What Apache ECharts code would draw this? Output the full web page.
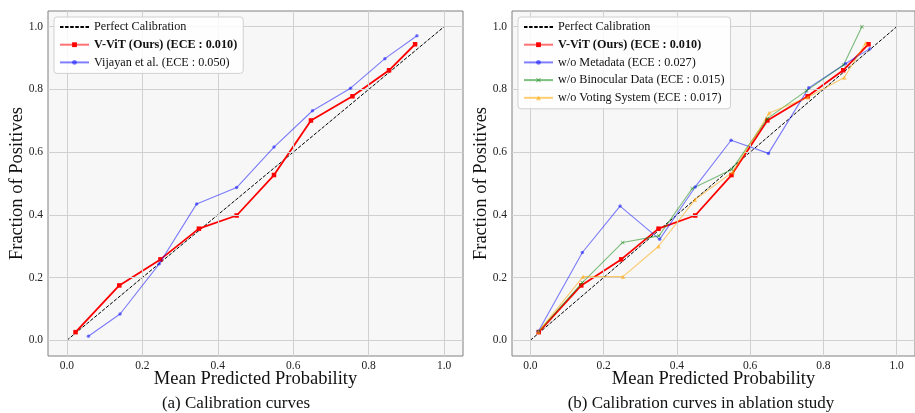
<!DOCTYPE html>
<html><head><meta charset="utf-8">
<script src="https://cdn.jsdelivr.net/npm/echarts@6/dist/echarts.min.js"></script>
<style>html,body{margin:0;padding:0;background:#fff}#c{width:915px;height:413px}</style>
</head><body><div id="c"></div>
<script>
// ---- data ----
const tickValues = [0.0, 0.2, 0.4, 0.6, 0.8, 1.0];
const perfectX = [0, 1];
const perfectY = [0, 1];
const vvitX = [0.023, 0.139, 0.248, 0.350, 0.450, 0.549, 0.647, 0.757, 0.854, 0.923];
const vvitY = [0.026, 0.175, 0.258, 0.356, 0.398, 0.527, 0.701, 0.778, 0.861, 0.944];
const vijX = [0.057, 0.141, 0.245, 0.344, 0.450, 0.549, 0.651, 0.752, 0.843, 0.928];
const vijY = [0.013, 0.084, 0.244, 0.435, 0.487, 0.616, 0.732, 0.804, 0.898, 0.971];
const metaX = [0.022, 0.142, 0.245, 0.353, 0.450, 0.548, 0.650, 0.760, 0.860, 0.927];
const metaY = [0.029, 0.280, 0.428, 0.322, 0.489, 0.638, 0.596, 0.805, 0.882, 0.930];
const binoX = [0.022, 0.142, 0.252, 0.351, 0.442, 0.550, 0.647, 0.754, 0.855, 0.905];
const binoY = [0.028, 0.184, 0.312, 0.333, 0.484, 0.545, 0.707, 0.796, 0.878, 1.000];
const voteX = [0.022, 0.144, 0.253, 0.350, 0.449, 0.553, 0.652, 0.758, 0.857, 0.915];
const voteY = [0.027, 0.203, 0.203, 0.300, 0.448, 0.537, 0.725, 0.775, 0.838, 0.947];

const N_PERFECT = 'Perfect Calibration';
const N_VVIT = 'V-ViT (Ours) (ECE : 0.010)';
const N_VIJ = 'Vijayan et al. (ECE : 0.050)';
const N_META = 'w/o Metadata (ECE : 0.027)';
const N_BINO = 'w/o Binocular Data (ECE : 0.015)';
const N_VOTE = 'w/o Voting System (ECE : 0.017)';
const captionA = '(a) Calibration curves';
const captionB = '(b) Calibration curves in ablation study';
const xTitle = 'Mean Predicted Probability';
const yTitle = 'Fraction of Positives';

const zip = (a, b) => a.map((v, i) => [v, b[i]]);
const FONT = '"Liberation Serif", "Times New Roman", serif';
const xSymbol = 'path://M0,1.4L1.4,0L5,3.6L8.6,0L10,1.4L6.4,5L10,8.6L8.6,10L5,6.4L1.4,10L0,8.6L3.6,5Z';

function mkX(idx) {
  return {
    type: 'value', gridIndex: idx, min: -0.05, max: 1.05,
    name: xTitle, nameLocation: 'middle', nameGap: 14, nameMoveOverlap: false,
    nameTextStyle: { fontFamily: FONT, fontSize: 18.5, color: '#111' },
    axisLine: { show: false },
    axisTick: { show: true, length: 3.5, inside: false, customValues: tickValues, lineStyle: { color: '#777' } },
    axisLabel: { customValues: tickValues, margin: 4, fontFamily: FONT, fontSize: 11.5, color: '#222',
      formatter: v => v.toFixed(1) },
    splitLine: { show: false }
  };
}
function mkY(idx) {
  return {
    type: 'value', gridIndex: idx, min: -0.05, max: 1.05,
    name: yTitle, nameLocation: 'middle', nameGap: 21, nameRotate: 90, nameMoveOverlap: false,
    nameTextStyle: { fontFamily: FONT, fontSize: 18.5, color: '#111' },
    axisLine: { show: false },
    axisTick: { show: true, length: 3.5, customValues: tickValues, lineStyle: { color: '#777' } },
    axisLabel: { customValues: tickValues, margin: 5, fontFamily: FONT, fontSize: 11.5, color: '#222',
      formatter: v => v.toFixed(1) },
    splitLine: { show: false }
  };
}
function gridLines(idx) {
  // grid lines at tick values, drawn through the axis scales
  return {
    type: 'line', xAxisIndex: idx, yAxisIndex: idx, data: [], silent: true, z: 1,
    markLine: {
      silent: true, symbol: 'none', label: { show: false },
      lineStyle: { color: '#d0d0d0', width: 1, type: 'solid' },
      data: tickValues.map(v => ({ xAxis: v })).concat(tickValues.map(v => ({ yAxis: v })))
    }
  };
}
function perfect(idx) {
  return { name: N_PERFECT, type: 'line', xAxisIndex: idx, yAxisIndex: idx, data: zip(perfectX, perfectY),
    symbol: 'none', lineStyle: { color: '#000', width: 1, type: [3.5, 1.6] }, itemStyle: { color: '#000' }, z: 3 };
}
function vvit(idx) {
  return { name: N_VVIT, type: 'line', xAxisIndex: idx, yAxisIndex: idx, data: zip(vvitX, vvitY),
    symbol: 'rect', symbolSize: 4.5, lineStyle: { color: '#ff0000', width: 1.8 }, itemStyle: { color: '#ff0000' }, z: 4 };
}
function thin(name, idx, xs, ys, color, symbol, size) {
  return { name, type: 'line', xAxisIndex: idx, yAxisIndex: idx, data: zip(xs, ys),
    symbol, symbolSize: size, lineStyle: { color, width: 1.1 }, itemStyle: { color }, z: 5 };
}
const BLUE = 'rgba(0,0,255,0.5)', GREEN = 'rgba(0,128,0,0.5)', ORANGE = 'rgba(255,165,0,0.55)';

function legendCfg(left, names) {
  return {
    left, top: 17, orient: 'vertical', padding: [3, 6, 4, 5], itemGap: 3.7, z: 20,
    itemWidth: 29, itemHeight: 6,
    backgroundColor: 'rgba(255,255,255,0.85)', borderColor: '#d0d0d0', borderWidth: 1, borderRadius: 3,
    textStyle: { fontFamily: FONT, fontSize: 12.2, color: '#111', lineHeight: 14,
      rich: { b: { fontFamily: FONT, fontSize: 12.2, fontWeight: 'bold', color: '#111', lineHeight: 14 } } },
    formatter: n => n === N_VVIT ? '{b|' + n + '}' : n,
    selectedMode: false,
    data: names.map(n => {
      if (n === N_VVIT) return { name: n, lineStyle: { opacity: 0.55 } };
      if (n === N_PERFECT) return { name: n, itemStyle: { opacity: 0 } };
      return { name: n };
    })
  };
}

const chart = echarts.init(document.getElementById('c'), null, { renderer: 'canvas' });
chart.setOption({
  animation: false,
  backgroundColor: '#fff',
  grid: [
    { left: 48, top: 11, width: 415, height: 345, show: true, backgroundColor: '#f7f7f7', borderColor: '#808080', borderWidth: 1 },
    { left: 512, top: 11, width: 415, height: 345, show: true, backgroundColor: '#f7f7f7', borderColor: '#808080', borderWidth: 1 }
  ],
  xAxis: [mkX(0), mkX(1)],
  yAxis: [mkY(0), mkY(1)],
  legend: [
    legendCfg(54, [N_PERFECT, N_VVIT, N_VIJ]),
    legendCfg(518, [N_PERFECT, N_VVIT, N_META, N_BINO, N_VOTE])
  ],
  graphic: [
    { type: 'text', x: 236, y: 404, style: { text: captionA, font: '17px ' + FONT, fill: '#111', align: 'center', verticalAlign: 'middle' } },
    { type: 'text', x: 701, y: 404, style: { text: captionB, font: '17px ' + FONT, fill: '#111', align: 'center', verticalAlign: 'middle' } }
  ],
  series: [
    gridLines(0), gridLines(1),
    perfect(0), vvit(0), thin(N_VIJ, 0, vijX, vijY, BLUE, 'circle', 3.5),
    perfect(1), vvit(1),
    thin(N_META, 1, metaX, metaY, BLUE, 'circle', 3.5),
    thin(N_BINO, 1, binoX, binoY, GREEN, xSymbol, 4),
    thin(N_VOTE, 1, voteX, voteY, ORANGE, 'triangle', 4.5)
  ]
});
</script></body></html>
